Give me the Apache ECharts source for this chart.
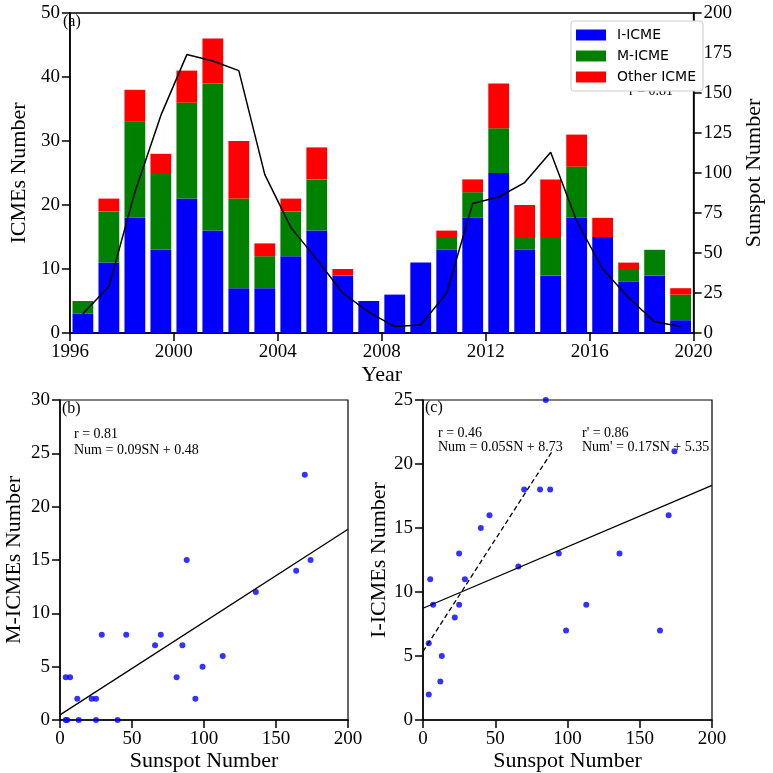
<!DOCTYPE html>
<html><head><meta charset="utf-8">
<script src="https://cdn.jsdelivr.net/npm/echarts@6/dist/echarts.min.js"></script>
<style>html,body{margin:0;padding:0;background:#fff}#c{width:773px;height:773px}</style>
</head><body><div id="c"></div>
<script>
const years = [1996,1997,1998,1999,2000,2001,2002,2003,2004,2005,2006,2007,2008,2009,2010,2011,2012,2013,2014,2015,2016,2017,2018,2019];
const iIcme = [3,11,18,13,21,16,7,7,12,16,9,5,6,11,13,18,25,13,9,18,15,8,9,2];
const mIcme = [2,8,15,12,15,23,14,5,7,8,0,0,0,0,2,4,7,2,6,8,0,2,4,4];
const otherIcme = [0,2,5,3,5,7,9,2,2,5,1,0,0,0,1,2,7,5,9,5,3,1,0,1];
const sunspot = [12,29,88,136,174,170,164,99,66,46,25,13,4,5,25,81,85,94,113,70,40,22,7,4];
// regression lines: [slope, intercept, xStart, xEnd]
const fitM = [0.087, 0.48, 0, 200];
const fitI = [0.048, 8.73, 0, 200];
const fitIprime = [0.175, 5.35, 0, 89];

const serif = 'Liberation Serif';
const fitLine = f => [[f[2], f[1] + f[0]*f[2]], [f[3], f[1] + f[0]*f[3]]];
const scat = arr => sunspot.map((s,i)=>[s, arr[i]]);

const axisCol = '#000';
const tickLabel = () => ({fontFamily: serif, fontSize: 19, color: '#000', margin: 10, formatter: v => String(v)});
const nameStyle = () => ({fontFamily: serif, fontSize: 22, color: '#000'});
const lineStyleAx = () => ({color: axisCol, width: 1.5});
const tick = () => ({show:true, length:8, lineStyle:{color:axisCol, width:1.5}});

const chart = echarts.init(document.getElementById('c'), null, {renderer:'canvas'});
chart.setOption({
  animation: false,
  backgroundColor: '#fff',
  grid: [
    {left:60, right:61, top:13, height:320, show:true, borderColor:'#000', borderWidth:1.5, backgroundColor:'transparent'},
    {left:60, top:400, width:288, height:320, show:true, borderColor:'#000', borderWidth:1.2, backgroundColor:'transparent'},
    {left:423, top:400, width:289, height:320, show:true, borderColor:'#000', borderWidth:1.2, backgroundColor:'transparent'}
  ],
  legend: {
    data:['I-ICME','M-ICME','Other ICME'],
    orient:'vertical', left:571, top:21,
    icon:'rect', itemWidth:30, itemHeight:11, itemGap:7,
    backgroundColor:'#fff', borderColor:'#ccc', borderWidth:1, borderRadius:3,
    padding:[7,7,7,5],
    textStyle:{fontFamily:'DejaVu Sans', fontSize:14, color:'#000', padding:[0,0,0,6]},
    z: 10
  },
  xAxis: [
    {gridIndex:0, type:'value', min:1996, max:2020, interval:4, name:'Year', nameLocation:'middle', nameGap:31,
     nameTextStyle:nameStyle(), axisLine:{lineStyle:lineStyleAx()}, axisTick:tick(), axisLabel:tickLabel(), splitLine:{show:false}},
    {gridIndex:1, type:'value', min:0, max:200, interval:50, name:'Sunspot Number', nameLocation:'middle', nameGap:28,
     nameTextStyle:nameStyle(), axisLine:{lineStyle:lineStyleAx()}, axisTick:tick(), axisLabel:tickLabel(), splitLine:{show:false}},
    {gridIndex:2, type:'value', min:0, max:200, interval:50, name:'Sunspot Number', nameLocation:'middle', nameGap:28,
     nameTextStyle:nameStyle(), axisLine:{lineStyle:lineStyleAx()}, axisTick:tick(), axisLabel:tickLabel(), splitLine:{show:false}},
    {gridIndex:0, type:'category', data:years, boundaryGap:true, show:false}
  ],
  yAxis: [
    {gridIndex:0, type:'value', min:0, max:50, interval:10, name:'ICMEs Number', nameLocation:'middle', nameGap:35, nameRotate:90,
     nameTextStyle:nameStyle(), axisLine:{show:true, lineStyle:lineStyleAx()}, axisTick:tick(), axisLabel:tickLabel(), splitLine:{show:false}},
    {gridIndex:0, type:'value', position:'right', min:0, max:200, interval:25, name:'Sunspot Number', nameLocation:'middle', nameGap:40, nameRotate:90,
     nameTextStyle:nameStyle(), axisLine:{show:true, lineStyle:lineStyleAx()}, axisTick:tick(), axisLabel:tickLabel(), splitLine:{show:false}},
    {gridIndex:1, type:'value', min:0, max:30, interval:5, name:'M-ICMEs Number', nameLocation:'middle', nameGap:35, nameRotate:90,
     nameTextStyle:nameStyle(), axisLine:{show:true, lineStyle:lineStyleAx()}, axisTick:tick(), axisLabel:tickLabel(), splitLine:{show:false}},
    {gridIndex:2, type:'value', min:0, max:25, interval:5, name:'I-ICMEs Number', nameLocation:'middle', nameGap:30, nameRotate:90,
     nameTextStyle:nameStyle(), axisLine:{show:true, lineStyle:lineStyleAx()}, axisTick:tick(), axisLabel:tickLabel(), splitLine:{show:false}}
  ],
  graphic: [
    {type:'text', left:63, top:14, z:1, style:{text:'(a)', font:'16px "Liberation Serif"', fill:'#000'}},
    {type:'text', left:629, top:84, z:1, style:{text:'r = 0.81', font:'14px "Liberation Serif"', fill:'#000'}},
    {type:'text', left:62, top:401, z:1, style:{text:'(b)', font:'16px "Liberation Serif"', fill:'#000'}},
    {type:'text', left:74, top:426, z:1, style:{text:'r = 0.81\nNum = 0.09SN + 0.48', font:'14px "Liberation Serif"', lineHeight:16, fill:'#000'}},
    {type:'text', left:425, top:400, z:1, style:{text:'(c)', font:'16px "Liberation Serif"', fill:'#000'}},
    {type:'text', left:438, top:426, z:1, style:{text:'r = 0.46\nNum = 0.05SN + 8.73', font:'14px "Liberation Serif"', lineHeight:14, fill:'#000'}},
    {type:'text', left:582, top:426, z:1, style:{text:"r' = 0.86\nNum' = 0.17SN + 5.35", font:'14px "Liberation Serif"', lineHeight:14, fill:'#000'}}
  ],
  series: [
    {name:'I-ICME', type:'bar', xAxisIndex:3, yAxisIndex:0, stack:'a', barWidth:'80%', itemStyle:{color:'#0000ff'}, data:iIcme},
    {name:'M-ICME', type:'bar', xAxisIndex:3, yAxisIndex:0, stack:'a', barWidth:'80%', itemStyle:{color:'#008000'}, data:mIcme},
    {name:'Other ICME', type:'bar', xAxisIndex:3, yAxisIndex:0, stack:'a', barWidth:'80%', itemStyle:{color:'#ff0000'}, data:otherIcme},
    {name:'SN', type:'line', xAxisIndex:3, yAxisIndex:1, showSymbol:false, symbol:'none', lineStyle:{color:'#000', width:1.5}, data:sunspot, z:5},
    {type:'scatter', xAxisIndex:1, yAxisIndex:2, symbolSize:6, clip:false, itemStyle:{color:'#0000ff'}, data:scat(mIcme)},
    {type:'line', xAxisIndex:1, yAxisIndex:2, symbol:'none', lineStyle:{color:'#000', width:1.3}, data:fitLine(fitM)},
    {type:'scatter', xAxisIndex:2, yAxisIndex:3, symbolSize:6, clip:false, itemStyle:{color:'#0000ff'}, data:scat(iIcme)},
    {type:'line', xAxisIndex:2, yAxisIndex:3, symbol:'none', lineStyle:{color:'#000', width:1.3}, data:fitLine(fitI)},
    {type:'line', xAxisIndex:2, yAxisIndex:3, symbol:'none', lineStyle:{color:'#000', width:1.3, type:[5,3]}, data:fitLine(fitIprime)}
  ]
});
</script></body></html>
